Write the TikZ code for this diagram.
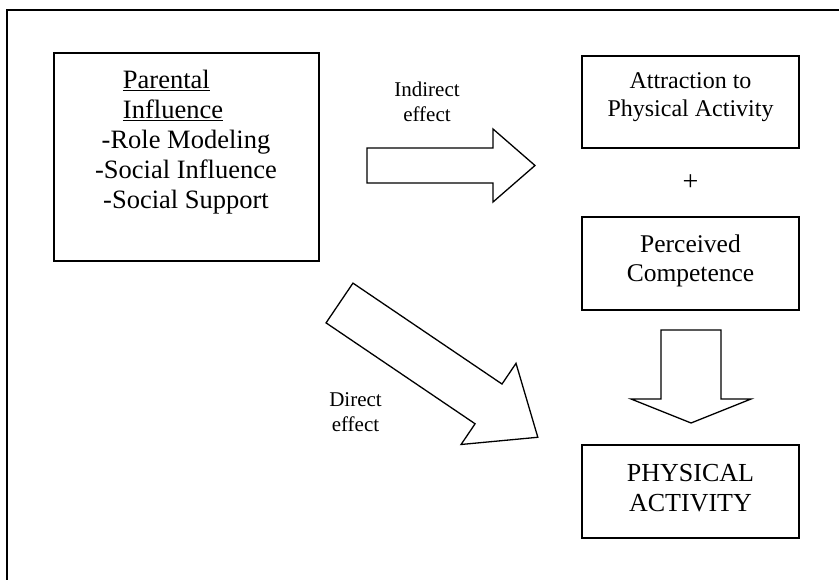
\documentclass[tikz,border=0pt]{standalone}
\usepackage{fontspec}
\setmainfont{Liberation Serif}
\usetikzlibrary{calc}

\NewDocumentCommand{\blockarrow}{mmmmmmm}{%
\begin{scope}[shift={(#1,#2)},rotate=#3]%
\draw[fatarrow] (0,-#5/2) -- (#4,-#5/2) -- (#4,-#7/2) -- (#4+#6,0)
  -- (#4,#7/2) -- (#4,#5/2) -- (0,#5/2) -- cycle;%
\end{scope}%
}

\tikzset{
  box/.style={draw, line width=1.6pt, minimum width=217pt, minimum height=92pt, inner sep=0pt},
  boxtext/.style={align=center, inner sep=0pt, font=\fontsize{24}{28}\selectfont},
  fatarrow/.style={line width=1.3pt, line join=miter},
  effect/.style={align=center, inner sep=0pt, font=\fontsize{21}{25}\selectfont},
}

\begin{document}
\begin{tikzpicture}[x=1pt,y=-1pt]
\useasboundingbox (0,0) rectangle (839,580);
% frame: only the top and left edges are in view
\draw[line width=2pt] (839,10) -- (7,10) -- (7,580);

\node[box, minimum width=265pt, minimum height=208pt] (parent) at (186.5,157) {};
\node[boxtext, font=\fontsize{26.5}{30}\selectfont] (parenttext) at (186,142)
  {\makebox[126pt][l]{\underline{Parental}}\\
   \makebox[126pt][l]{\underline{Influence}}\\
   -Role Modeling\\ -Social Influence\\ -Social Support};

\node[box] (attract) at (690.5,102) {};
\node[boxtext] (attracttext) at (690.5,97.5) {Attraction to\\Physical Activity};
\node[box, minimum height=93pt] (perceive) at (690.5,263.5) {};
\node[boxtext, font=\fontsize{25.5}{29.5}\selectfont] (perceivetext) at (690.5,261)
  {Perceived\\Competence};
\node[inner sep=0pt, font=\fontsize{28}{32}\selectfont] (plus)
  at ($(attract.south)!0.5!(perceive.north)$) {+};
\node[box, minimum height=93pt] (activity) at (690.5,491.5) {};
\node[boxtext, font=\fontsize{26}{30}\selectfont] (activitytext) at (690.5,488)
  {PHYSICAL\\ACTIVITY};

\node[effect] (indirect) at (427,102) {Indirect\\effect};
\node[effect] (direct) at (355.5,412) {Direct\\effect};

% block arrows: tail x, tail y, angle, shaft length, shaft width, head length, head width
\blockarrow{367}{165.5}{0}{126}{35}{42}{73}
\blockarrow{339.5}{303}{-34.1}{180}{48}{59.5}{98}
\blockarrow{691}{330}{-90}{69}{60}{24}{120}
\end{tikzpicture}
\end{document}
